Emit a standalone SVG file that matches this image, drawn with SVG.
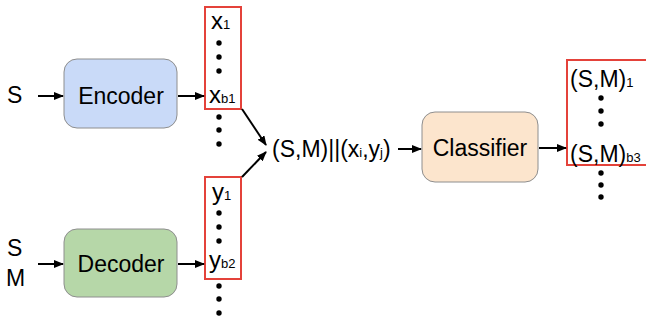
<svg xmlns="http://www.w3.org/2000/svg" width="646" height="320" viewBox="0 0 646 320">
<defs>
<marker id="ah" markerWidth="10" markerHeight="8" refX="9" refY="4" orient="auto" markerUnits="userSpaceOnUse">
<path d="M0,0 L10,4 L0,8 z" fill="#000"/>
</marker>
<style>
text{font-family:"Liberation Sans",Arial,sans-serif;fill:#000;font-size:23px}
.big{font-size:24px}
.sub{font-size:13px}
.box{stroke:#8e8e8e;stroke-width:1}
.red{fill:none;stroke:#e4423a;stroke-width:2}
.c{stroke:#000;stroke-width:2;fill:none;marker-end:url(#ah)}
.dot{fill:#000}
</style>
</defs>
<rect width="646" height="320" fill="#fff"/>
<g id="input-s"><text x="7" y="103">S</text></g>
<g id="input-sm"><text x="7" y="256">S</text><text x="6" y="286">M</text></g>
<g id="encoder"><rect class="box" x="64" y="59" width="113" height="69" rx="13" fill="#c9daf8"/><text x="121" y="104" text-anchor="middle">Encoder</text></g>
<g id="decoder"><rect class="box" x="64" y="229" width="113" height="68" rx="13" fill="#b6d7a8"/><text x="121" y="272" text-anchor="middle">Decoder</text></g>
<g id="classifier"><rect class="box" x="422" y="112" width="116" height="70" rx="13" fill="#fce5cd"/><text x="480" y="156" text-anchor="middle">Classifier</text></g>
<g id="x-list">
<rect class="red" x="205" y="7" width="36" height="102"/>
<text class="big" x="211" y="29">x<tspan class="sub">1</tspan></text>
<circle class="dot" cx="219" cy="43" r="2.7"/><circle class="dot" cx="219" cy="57" r="2.7"/><circle class="dot" cx="219" cy="71" r="2.7"/>
<text class="big" x="209" y="103">x<tspan class="sub">b1</tspan></text>
<circle class="dot" cx="219" cy="117" r="2.7"/><circle class="dot" cx="219" cy="130" r="2.7"/><circle class="dot" cx="219" cy="144" r="2.7"/>
</g>
<g id="y-list">
<rect class="red" x="205" y="177" width="36" height="102"/>
<text class="big" x="212" y="200">y<tspan class="sub">1</tspan></text>
<circle class="dot" cx="219" cy="213" r="2.7"/><circle class="dot" cx="219" cy="227" r="2.7"/><circle class="dot" cx="219" cy="241" r="2.7"/>
<text class="big" x="209" y="268">y<tspan class="sub">b2</tspan></text>
<circle class="dot" cx="219" cy="286" r="2.7"/><circle class="dot" cx="219" cy="299" r="2.7"/><circle class="dot" cx="219" cy="313" r="2.7"/>
</g>
<g id="pair"><text x="272" y="157">(S,M)||(x<tspan class="sub">i</tspan>,y<tspan class="sub">j</tspan>)</text></g>
<g id="out-list">
<rect class="red" x="567" y="60" width="82" height="105"/>
<text x="570" y="87">(S,M)<tspan class="sub">1</tspan></text>
<circle class="dot" cx="601" cy="98" r="2.7"/><circle class="dot" cx="601" cy="111" r="2.7"/><circle class="dot" cx="601" cy="124" r="2.7"/>
<text x="570" y="162">(S,M)<tspan class="sub">b3</tspan></text>
<circle class="dot" cx="601" cy="173" r="2.7"/><circle class="dot" cx="601" cy="185" r="2.7"/><circle class="dot" cx="601" cy="197" r="2.7"/>
</g>
<g id="connectors">
<line class="c" x1="38" y1="96" x2="63" y2="96"/>
<line class="c" x1="38" y1="264" x2="63" y2="264"/>
<line class="c" x1="178" y1="96" x2="204" y2="96"/>
<line class="c" x1="178" y1="264" x2="204" y2="264"/>
<line class="c" x1="242" y1="109" x2="266" y2="145"/>
<line class="c" x1="242" y1="177" x2="266" y2="152"/>
<line class="c" x1="398" y1="149" x2="421" y2="149"/>
<line class="c" x1="539" y1="148" x2="566" y2="148"/>
</g>
</svg>
